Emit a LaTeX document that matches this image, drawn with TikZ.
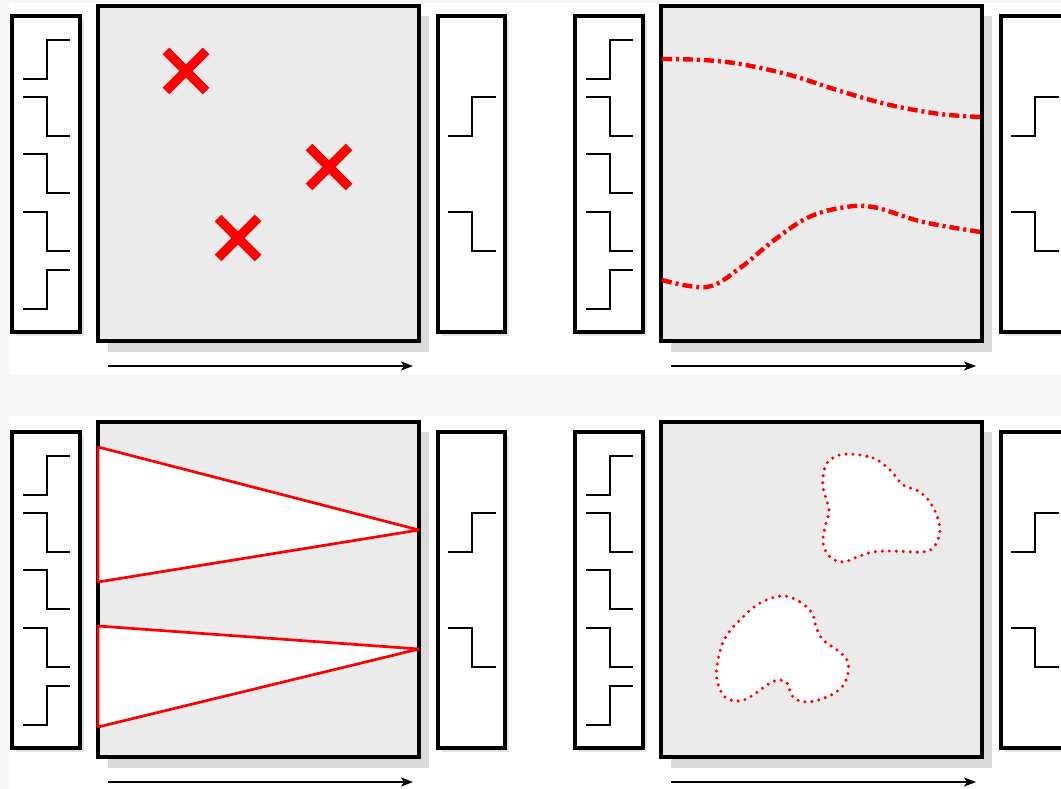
\documentclass[tikz,border=0pt]{standalone}
\usetikzlibrary{arrows.meta}

\definecolor{panelgray}{HTML}{EBEBEB}
\definecolor{shadowgray}{HTML}{D9D9D9}
\definecolor{bandgray}{HTML}{F6F6F6}
\definecolor{markred}{HTML}{FF0000}

\tikzset{
  frame/.style={draw=black,line width=3.2pt},
  sidebox/.style={frame,fill=white},
  mainbox/.style={frame,fill=panelgray},
  bigshadow/.style={fill=shadowgray},
  smallshadow/.style={fill=black!11},
  pulse/.style={draw=black,line width=2.9pt,line cap=butt,line join=miter},
  timearrow/.style={draw=black,line width=1.7pt,-{Stealth[length=12pt,width=9pt,inset=3pt]}},
  cross/.style={draw=markred,line width=9.5pt},
  track/.style={draw=markred,line width=4.4pt,dash pattern=on 10pt off 4pt on 3pt off 4pt},
  wedge/.style={draw=markred,fill=white,line width=2.7pt,line join=bevel},
  region/.style={draw=markred,fill=white,line width=3.4pt,line cap=round,dash pattern=on 0pt off 7pt},
}

\begin{document}
\begin{tikzpicture}[x=1pt,y=-1pt]
  \useasboundingbox (0,0) rectangle (1061,789);
  \clip (0,0) rectangle (1061,789);

  % page background: faint gray margins and band between the rows
  \fill[bandgray] (0,0) rectangle (1061,789);
  \fill[white] (9,3) rectangle (1061,375);
  \fill[white] (9,416) rectangle (1061,789);

  % common frame of each panel: input column, field, output column, time arrow
  \foreach \dx/\dy/\k in {0/0/1,563/0/2,0/416/3,563/416/4} {
    \begin{scope}[shift={(\dx,\dy)}]
      % shadows
      \fill[smallshadow] (16,20) rectangle (84,336);
      \fill[smallshadow] (442,20) rectangle (509,336);
      \fill[bigshadow] (108,16) rectangle (429,352);
      % boxes
      \draw[sidebox] (12,16) rectangle (80,332);
      \draw[mainbox] (98,6) rectangle (419,341);
      \draw[sidebox] (438,16) rectangle (505,332);
      % input pulses
      \foreach \t in {40,270}
        \draw[pulse] (23,\t+39) -- (47,\t+39) -- (47,\t) -- (70,\t);
      \foreach \t in {97,154,212}
        \draw[pulse] (23,\t) -- (47,\t) -- (47,\t+39) -- (70,\t+39);
      % output pulses
      \draw[pulse] (448,136) -- (472,136) -- (472,97) -- (496,97);
      \draw[pulse] (448,212) -- (472,212) -- (472,251) -- (496,251);
      % time arrow
      \coordinate (arr\k s) at (108,366);
      \coordinate (arr\k e) at (413,366);
      \draw[timearrow] (arr\k s) -- (arr\k e);
    \end{scope}
  }

  % panel 1: point events
  \foreach \cx/\cy in {186/71,329/167,238/238} {
    \draw[cross] (\cx-20,\cy-20) -- (\cx+20,\cy+20);
    \draw[cross] (\cx-20,\cy+20) -- (\cx+20,\cy-20);
  }

  % panel 2: two curved tracks
  \begin{scope}[shift={(563,0)}]
    \draw[track] plot[smooth,tension=0.6] coordinates
      {(99,59) (140,60) (177,64) (227,75) (277,91) (327,105) (377,114) (418,117)};
    \draw[track] plot[smooth,tension=0.6] coordinates
      {(99,280) (144,287) (177,268) (210,241) (244,218) (277,208) (310,207) (360,222) (418,232)};
  \end{scope}

  % panel 3: two wedges opening from the left edge
  \begin{scope}[shift={(0,416)}]
    \draw[wedge] (98,31) -- (419,114) -- (98,166) -- cycle;
    \draw[wedge] (98,210) -- (419,233) -- (98,311) -- cycle;
  \end{scope}

  % panel 4: two irregular regions
  \begin{scope}[shift={(563,416)}]
    \draw[region] plot[smooth cycle,tension=0.6] coordinates
      {(284,38) (310,42) (327,54) (340,69) (357,76) (370,91) (377,114)
       (370,132) (357,136) (330,135) (310,136) (294,141) (280,146)
       (267,141) (260,127) (262,111) (266,94) (260,71) (262,51) (270,42)};
    \draw[region] plot[smooth cycle,tension=0.6] coordinates
      {(220,180) (237,186) (249,197) (253,211) (260,224) (274,234) (284,244)
       (285,257) (279,271) (264,281) (244,286) (230,281) (224,267) (214,264)
       (204,269) (190,279) (177,285) (162,281) (154,264) (155,244) (162,222)
       (177,204) (197,187)};
  \end{scope}
\end{tikzpicture}
\end{document}
